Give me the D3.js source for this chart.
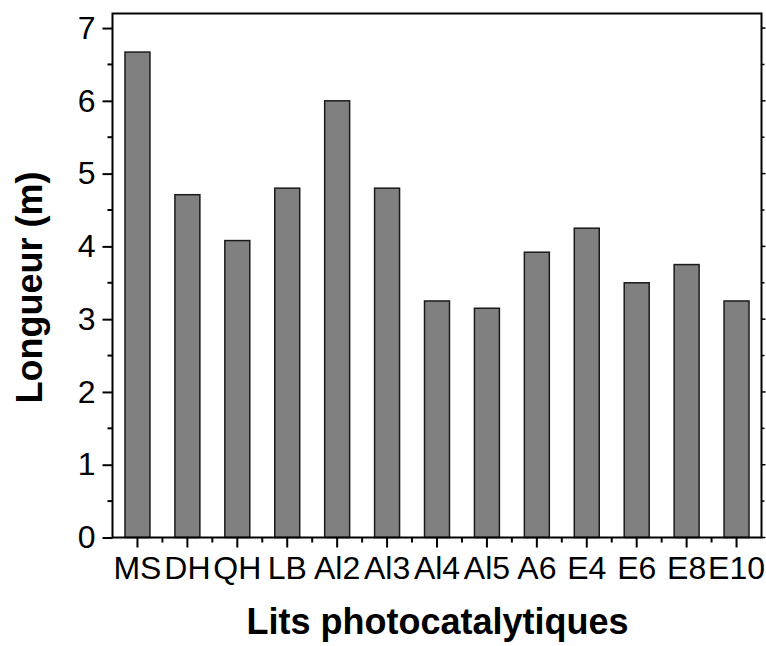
<!DOCTYPE html>
<html><head><meta charset="utf-8">
<script src="https://cdn.jsdelivr.net/npm/d3@7"></script>
<style>body{margin:0;background:#fff}svg{display:block}</style>
</head><body>
<script>
const categories = ["MS","DH","QH","LB","Al2","Al3","Al4","Al5","A6","E4","E6","E8","E10"];
const values = [6.67,4.71,4.08,4.80,6.00,4.80,3.25,3.15,3.92,4.25,3.50,3.75,3.25];
const yTicks = [0,1,2,3,4,5,6,7];
const xTitle = "Lits photocatalytiques";
const yTitle = "Longueur (m)";

const W=766,H=646;
const L=112.5,R=761.5,T=13.5,B=537.5;
const svg=d3.select("body").append("svg").attr("width",W).attr("height",H);
const x=d3.scaleBand().domain(categories).range([L,R]).paddingInner(0).paddingOuter(0);
const y=d3.scaleLinear().domain([0,7.2]).range([B,T]);
const font="Arial, 'Liberation Sans', sans-serif";

// bars
svg.append("g").selectAll("rect").data(values).join("rect")
  .attr("x",(d,i)=>x(categories[i])+x.bandwidth()*0.25)
  .attr("width",x.bandwidth()*0.5)
  .attr("y",d=>y(d)).attr("height",d=>B-y(d))
  .attr("fill","#808080").attr("stroke","#1a1a1a").attr("stroke-width",1.5);

// frame
svg.append("rect").attr("x",L).attr("y",T).attr("width",R-L).attr("height",B-T)
  .attr("fill","none").attr("stroke","#000").attr("stroke-width",2);

// y axis major
const yAx=svg.append("g").attr("transform",`translate(${L},0)`)
  .call(d3.axisLeft(y).tickValues(yTicks).tickSize(10).tickPadding(7).tickFormat(d3.format("d")));
yAx.select(".domain").remove();
yAx.selectAll("line").attr("stroke","#000").attr("stroke-width",2);
yAx.selectAll("text").attr("font-family",font).attr("font-size",32).attr("fill","#000");
// y minor
const yMinor=d3.range(0.5,7.2,1);
svg.append("g").selectAll("line").data(yMinor).join("line")
  .attr("x1",L-5).attr("x2",L).attr("y1",d=>y(d)).attr("y2",d=>y(d)).attr("stroke","#000").attr("stroke-width",2);
// right ticks
svg.append("g").selectAll("line").data(yTicks.concat(yMinor)).join("line")
  .attr("x1",R).attr("x2",d=>R+(Number.isInteger(d)?4:3)).attr("y1",d=>y(d)).attr("y2",d=>y(d)).attr("stroke","#000").attr("stroke-width",1.5);

// x axis
const xAx=svg.append("g").attr("transform",`translate(0,${B})`)
  .call(d3.axisBottom(x).tickSize(10).tickPadding(9));
xAx.select(".domain").remove();
xAx.selectAll("line").attr("stroke","#000").attr("stroke-width",2);
xAx.selectAll("text").attr("font-family",font).attr("font-size",32).attr("fill","#000").attr("dy","0.71em");
// x minor at band boundaries
svg.append("g").selectAll("line").data(categories.slice(1)).join("line")
  .attr("x1",d=>x(d)).attr("x2",d=>x(d)).attr("y1",B).attr("y2",B+5).attr("stroke","#000").attr("stroke-width",2);

// titles
svg.append("text").attr("x",437.5).attr("y",634).attr("text-anchor","middle")
  .attr("font-family",font).attr("font-weight","bold").attr("font-size",36).text(xTitle);
svg.append("text").attr("transform",`translate(42,287.5) rotate(-90)`).attr("text-anchor","middle")
  .attr("font-family",font).attr("font-weight","bold").attr("font-size",36).text(yTitle);
</script>
</body></html>
